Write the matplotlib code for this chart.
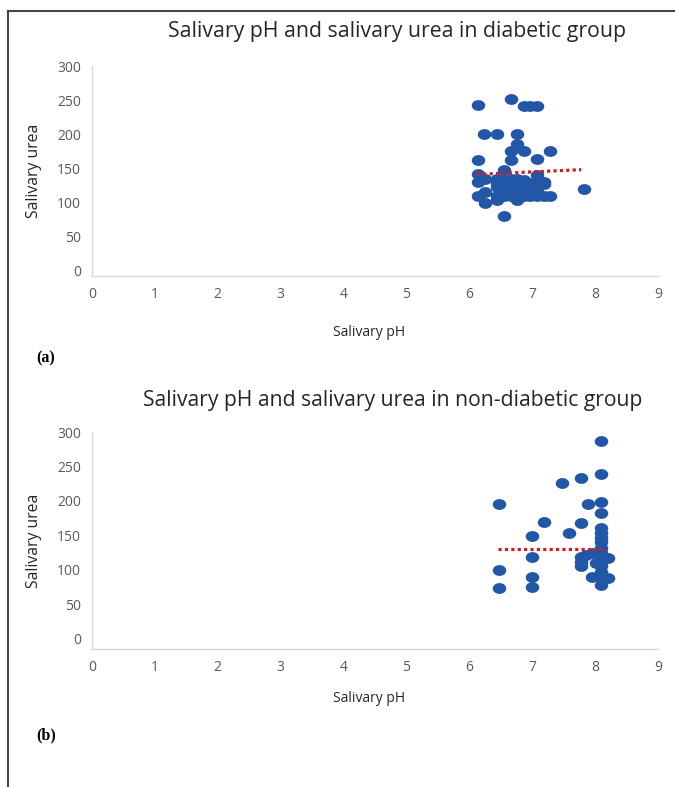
import matplotlib.pyplot as plt
import numpy as np
from matplotlib.path import Path

# diabetic group (a)
ph_d = [6.13, 6.66, 6.87, 6.97, 7.08, 6.23, 6.44, 6.76, 6.76, 6.66, 6.87, 7.29,
        6.13, 6.66, 7.08, 7.82, 6.55, 6.25, 6.13, 6.13, 6.13, 6.25, 6.25, 6.55,
        6.44, 6.55, 6.66, 6.76, 6.87, 7.08, 7.08, 6.44, 6.55, 6.66, 6.76, 6.87,
        6.97, 7.08, 7.18, 6.44, 6.55, 6.66, 6.76, 6.87, 6.97, 7.08, 7.18, 7.29,
        6.44, 6.76, 7.08, 6.44, 6.66, 7.18]
urea_d = [243, 252, 242, 242, 242, 201, 201, 201, 186, 175, 175, 175,
          162, 162, 163, 119, 80, 99, 141, 130, 110, 135, 115, 147,
          135, 133, 135, 135, 133, 140, 133, 122, 122, 122, 122, 122,
          122, 122, 127, 110, 110, 110, 110, 110, 110, 110, 110, 109,
          103, 104, 115, 128, 115, 130]
trend_d_ph = [6.12, 7.78]
trend_d_urea = [141, 148]

# non-diabetic group (b)
ph_n = [8.09, 8.09, 7.78, 7.47, 6.47, 7.88, 8.09, 8.09, 7.18, 7.78, 7.58, 6.99,
        8.09, 8.09, 8.09, 8.09, 6.99, 6.47, 6.47, 6.99, 6.99, 7.78, 7.78, 7.78,
        7.85, 7.95, 8.09, 8.09, 8.09, 8.09, 8.21, 7.95, 8.09, 8.21, 8.09, 8.09,
        8.09, 8.02]
urea_n = [287, 239, 234, 226, 195, 195, 198, 182, 170, 168, 153, 149,
          160, 153, 146, 141, 118, 100, 74, 89, 75, 119, 112, 105,
          121, 124, 124, 112, 105, 97, 117, 90, 89, 88, 78, 131, 117, 110]
trend_n_ph = [6.45, 8.17]
trend_n_urea = [130, 130]

blue = '#2256a6'
red = '#cc1f1f'
grey_txt = '#595959'

# slightly squashed dot like the original
t = np.linspace(0, 2 * np.pi, 40)
dot = Path(np.column_stack([np.cos(t), 0.8 * np.sin(t)]), closed=True)

plt.rcParams['font.family'] = ['Open Sans', 'DejaVu Sans']

fig = plt.figure(figsize=(6.75, 7.87), dpi=100)


def panel(rect, xs, ys, tx, ty, ymin, ylab_y, xlab_y):
    ax = fig.add_axes(rect)
    ax.scatter(xs, ys, s=95, marker=dot, color=blue, linewidths=0, zorder=3)
    ax.plot(tx, ty, color=red, lw=2.3, linestyle=(0, (1, 1)), zorder=4)
    ax.set_xlim(0, 9)
    ax.set_ylim(ymin, 300)
    ax.set_xticks(range(0, 10))
    ax.set_yticks(range(0, 301, 50))
    ax.tick_params(length=0, labelsize=10, labelcolor=grey_txt, pad=8)
    for s in ['top', 'right']:
        ax.spines[s].set_visible(False)
    for s in ['left', 'bottom']:
        ax.spines[s].set_color('#d9d9d9')
        ax.spines[s].set_linewidth(1)
    ax.set_ylabel('Salivary urea', fontsize=11.3, color='#262626')
    ax.yaxis.set_label_coords(-0.088, ylab_y)
    ax.set_xlabel('Salivary pH', fontsize=10, color='#262626')
    ax.xaxis.set_label_coords(0.49, xlab_y)
    return ax


panel([0.1363, 0.6493, 0.8385, 0.2668], ph_d, urea_d, trend_d_ph, trend_d_urea,
      -8, 0.5, -0.233)
panel([0.1363, 0.1753, 0.8385, 0.2757], ph_n, urea_n, trend_n_ph, trend_n_urea,
      -15, 0.5, -0.194)

fig.text(0.588, 1 - 31 / 787, 'Salivary pH and salivary urea in diabetic group',
         ha='center', va='center', fontsize=15.3, color='#262626')
fig.text(0.582, 1 - 401 / 787, 'Salivary pH and salivary urea in non-diabetic group',
         ha='center', va='center', fontsize=15.2, color='#262626')

fig.text(36 / 675, 1 - 358 / 787, '(a)', fontsize=11.5, fontweight='bold',
         family='Liberation Serif', va='center')
fig.text(36 / 675, 1 - 735 / 787, '(b)', fontsize=11.5, fontweight='bold',
         family='Liberation Serif', va='center')

# outer frame lines (left and top)
fig.add_artist(plt.Line2D([8 / 675, 8 / 675], [0, 1 - 11 / 787],
                          transform=fig.transFigure, color='#3c4a45', lw=1.5))
fig.add_artist(plt.Line2D([8 / 675, 1], [1 - 11 / 787, 1 - 11 / 787],
                          transform=fig.transFigure, color='#3c4a45', lw=1.5))

fig.savefig('out.png', dpi=100, facecolor='white')
